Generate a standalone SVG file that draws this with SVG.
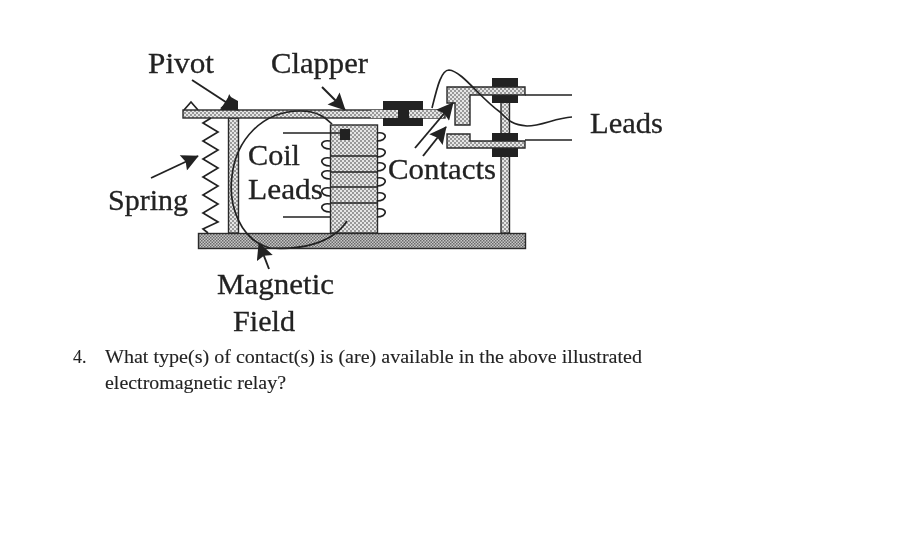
<svg xmlns="http://www.w3.org/2000/svg" width="919" height="537" viewBox="0 0 919 537">
<style>
text{font-family:"Liberation Serif","Times New Roman",serif;fill:#222;stroke:#222}
.l{font-size:29px;stroke-width:.3px}
.q{font-size:18px;stroke-width:.1px}
.s{fill:url(#dots);stroke:#2a2a2a;stroke-width:1.4}
.b{fill:#222}
.w{fill:none;stroke:#222;stroke-width:1.7}
.a{fill:none;stroke:#222;stroke-width:1.9}
</style>
<defs>
<pattern id="dots" width="4" height="4" patternUnits="userSpaceOnUse">
<rect width="4" height="4" fill="#e6e6e6"/>
<rect x="0" y="0" width="2" height="2" fill="#999"/>
<rect x="2" y="2" width="2" height="2" fill="#999"/>
</pattern>
<pattern id="dark" width="3" height="3" patternUnits="userSpaceOnUse">
<rect width="3" height="3" fill="#c8c8c8"/>
<rect width="1.5" height="1.5" fill="#6a6a6a"/>
<rect x="1.5" y="1.5" width="1.5" height="1.5" fill="#6a6a6a"/>
</pattern>
<filter id="soft"><feGaussianBlur stdDeviation="0.5"/></filter>
<marker id="ah" viewBox="0 0 10 10" refX="9.500" refY="5" markerWidth="18" markerHeight="17" markerUnits="userSpaceOnUse" orient="auto"><path d="M0 0L10 5L0 10L1.500 5Z" fill="#222"/></marker>
</defs>
<rect width="919" height="537" fill="#fff"/>
<g filter="url(#soft)">
<g id="base"><rect class="s" x="198.500" y="233.500" width="327" height="15" style="fill:url(#dark)"/></g>
<g id="pillar-left"><rect class="s" x="228.500" y="118" width="10" height="115"/></g>
<g id="pillar-right"><rect class="s" x="501" y="100" width="8.500" height="133"/></g>
<g id="core"><rect class="s" x="330.500" y="125" width="47" height="108"/>
<path class="w" d="M331 156H377M331 172H377M331 187H377M331 203H377"/></g>
<g id="clapper">
<rect class="s" x="183" y="110" width="262" height="8"/>
<path class="w" d="M184 110L191 102L198 110"/>
<path class="b" d="M220 110L229 96L238 101L238 110Z"/>
</g>
<g id="spring"><path class="w" d="M211 118L203 123L218 132L203 141L218 150L203 159L218 168L203 177L218 186L203 195L218 204L203 213L218 222L203 229L208 233"/></g>
<g id="coil"><path class="w" d="M330 141C319 139 319 149 330 149M330 158C319 156 319 166 330 166M330 171C319 169 319 179 330 179M330 188C319 186 319 196 330 196M330 204C319 202 319 212 330 212M377 133C388 131 388 141 377 141M377 149C388 147 388 157 377 157M377 163C388 161 388 171 377 171M377 178C388 176 388 186 377 186M377 193C388 191 388 201 377 201M377 209C388 207 388 217 377 217"/>
<path class="w" d="M283 133H342M283 217H330"/>
<rect class="b" x="340" y="129" width="10" height="11"/></g>
<g id="clamps"><rect class="b" x="492" y="78" width="26" height="25"/><rect class="b" x="492" y="133" width="26" height="24"/></g>
<g id="insulator"><path class="b" d="M383 101H423V126H383Z"/><rect x="371" y="110" width="27" height="8" fill="url(#dots)"/><rect x="409" y="110" width="34" height="8" fill="url(#dots)"/></g>
<g id="contact-upper">
<path class="s" d="M447 87H525V95H470V125H455V103H447Z"/>
</g>
<g id="contact-lower">
<path class="s" d="M447 134H470V141H525V148H447Z"/>
</g>
<g id="field"><path class="w" d="M270 248C240 240 228 205 232 176C236 140 262 111 300 111C318 111 326 118 332 124M270 248C300 250 332 244 347 221"/></g>
<g id="connectors">
<path class="a" marker-end="url(#ah)" d="M192 80L238 110"/>
<path class="a" marker-end="url(#ah)" d="M322 87L345 110"/>
<path class="a" marker-end="url(#ah)" d="M151 178L198 156"/>
<path class="a" marker-end="url(#ah)" d="M269 269L259 243"/>
<path class="a" marker-end="url(#ah)" d="M415 148L453 103"/>
<path class="a" marker-end="url(#ah)" d="M423 156L446 127"/>
<path class="w" d="M432 108C437 88 441 70 449 70C462 71 480 98 500 112C508 120 512 125 527 126C542 126 555 118 572 117"/>
<path class="w" d="M525 95H572M525 140H572"/>
</g>
</g>
<g id="labels" filter="url(#soft)">
<text class="l" x="148" y="73" textLength="66" lengthAdjust="spacingAndGlyphs">Pivot</text>
<text class="l" x="271" y="73" textLength="97" lengthAdjust="spacingAndGlyphs">Clapper</text>
<text class="l" x="590" y="133" textLength="73" lengthAdjust="spacingAndGlyphs">Leads</text>
<text class="l" x="248" y="165" textLength="52" lengthAdjust="spacingAndGlyphs">Coil</text>
<text class="l" x="248" y="199" textLength="75" lengthAdjust="spacingAndGlyphs">Leads</text>
<text class="l" x="388" y="179" textLength="108" lengthAdjust="spacingAndGlyphs">Contacts</text>
<text class="l" x="108" y="210" textLength="80" lengthAdjust="spacingAndGlyphs">Spring</text>
<text class="l" x="217" y="294" textLength="117" lengthAdjust="spacingAndGlyphs">Magnetic</text>
<text class="l" x="233" y="331" textLength="62" lengthAdjust="spacingAndGlyphs">Field</text>
<text class="q" x="73" y="363">4.</text>
<text class="q" x="105" y="363" textLength="537" lengthAdjust="spacingAndGlyphs">What type(s) of contact(s) is (are) available in the above illustrated</text>
<text class="q" x="105" y="389" textLength="181" lengthAdjust="spacingAndGlyphs">electromagnetic relay?</text>
</g>
</svg>
